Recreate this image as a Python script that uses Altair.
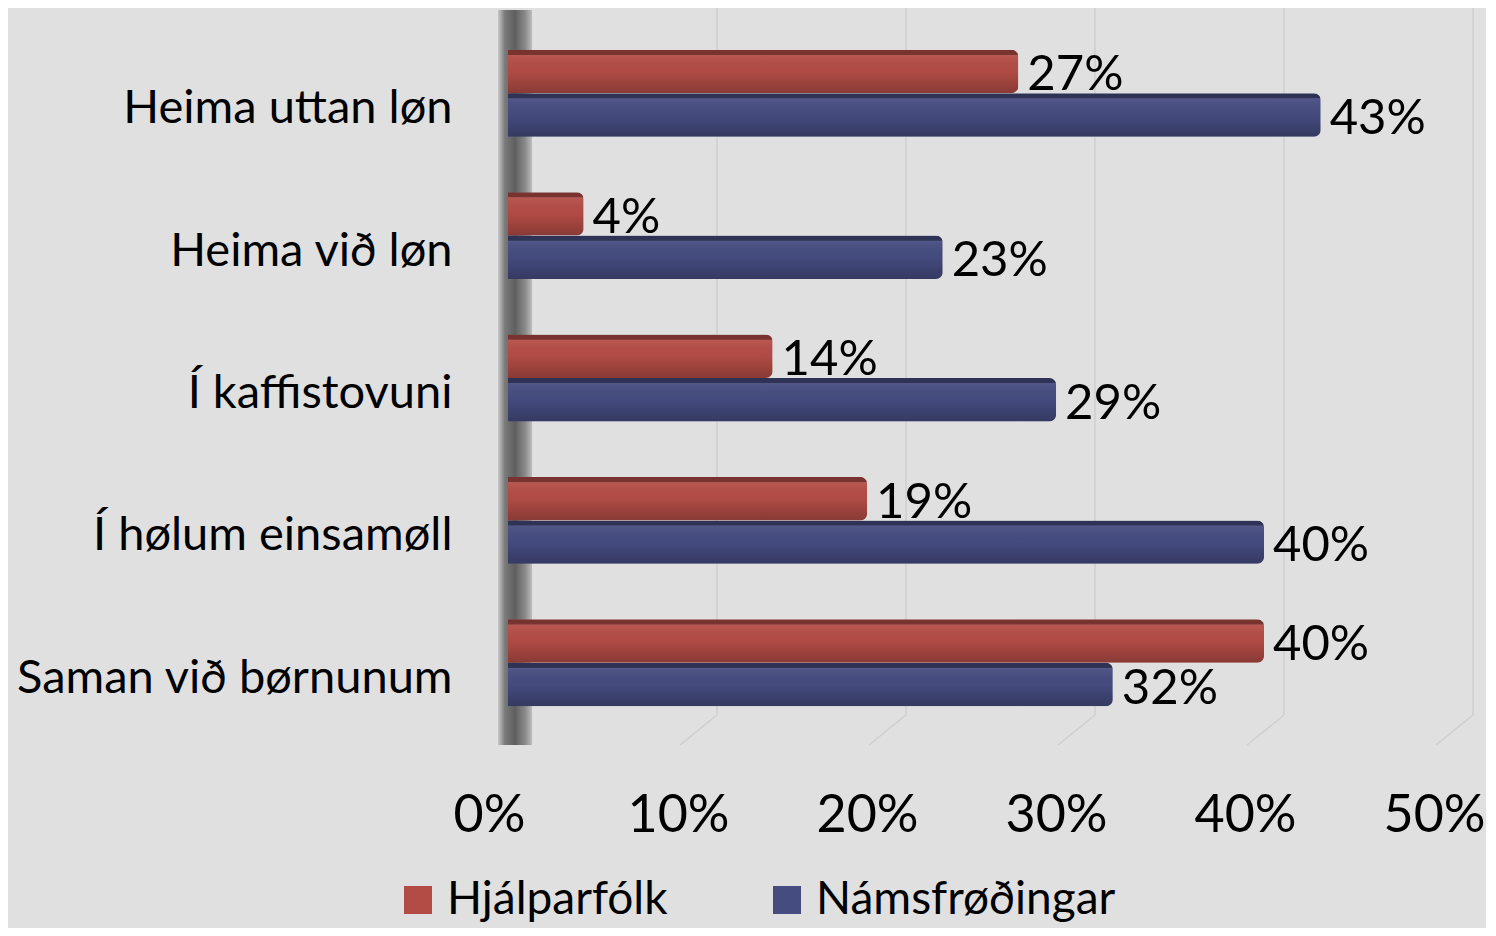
import altair as alt
import pandas as pd

categories = ["Heima uttan løn", "Heima við løn", "Í kaffistovuni", "Í hølum einsamøll", "Saman við børnunum"]
series = ["Hjálparfólk", "Námsfrøðingar"]
hjalparfolk = [27, 4, 14, 19, 40]
namsfrodingar = [43, 23, 29, 40, 32]
ticks = [0, 10, 20, 30, 40, 50]
colors = ["#b44c46", "#454c80"]

rows = []
for c, a, b in zip(categories, hjalparfolk, namsfrodingar):
    rows.append({"cat": c, "series": series[0], "value": a})
    rows.append({"cat": c, "series": series[1], "value": b})
df = pd.DataFrame(rows)
grid_df = pd.DataFrame({"t": ticks[1:]})

FONT = "Lato"
W, H = 945, 712

xscale = alt.Scale(domain=[0, 50], nice=False)
yscale = alt.Scale(paddingInner=0.39, paddingOuter=0.195)

# gridlines (3D back plane + floor slant)
grid_v = alt.Chart(grid_df).mark_rule(color="#cfcfcf", strokeWidth=1.5, xOffset=20).encode(
    x=alt.X("t:Q", scale=xscale),
    y=alt.value(-14), y2=alt.value(693))
grid_s = alt.Chart(grid_df).mark_rule(color="#cfcfcf", strokeWidth=1.5, xOffset=20, x2Offset=-17).encode(
    x=alt.X("t:Q", scale=xscale), x2="t:Q",
    y=alt.value(693), y2=alt.value(723))

wall_grad = alt.LinearGradient(
    gradient="linear", x1=0, x2=1, y1=0, y2=0,
    stops=[alt.GradientStop(color="#c8c8c8", offset=0),
           alt.GradientStop(color="#7a7a7a", offset=0.2),
           alt.GradientStop(color="#5f5f5f", offset=0.5),
           alt.GradientStop(color="#8a8a8a", offset=0.8),
           alt.GradientStop(color="#bdbdbd", offset=1)])
wall = alt.Chart(alt.Data(values=[{"z": 0}])).mark_rect(fill=wall_grad, xOffset=-10, x2Offset=24).encode(
    x=alt.X("z:Q", scale=xscale), x2="z:Q",
    y=alt.value(-12), y2=alt.value(723))

enc_y = alt.Y("cat:N", sort=categories, scale=yscale,
              axis=alt.Axis(title=None, ticks=False, domain=False, labelFont=FONT, labelFontSize=47,
                            labelColor="#000000", labelPadding=56, labelLimit=600, labelOffset=16,
                            labelExpr="datum.value == 'Heima við løn' ? datum.value + '\u00a0\u00a0\u00a0' : datum.value"))
enc_yoff = alt.YOffset("series:N", sort=series, scale=alt.Scale(paddingInner=0, paddingOuter=0))
enc_x = alt.X("value:Q", scale=xscale,
              axis=alt.Axis(title=None, values=ticks, format=".0f", labelExpr="datum.value + '%'",
                            ticks=False, domain=False, grid=False, labelFont=FONT, labelFontSize=52,
                            labelColor="#000000", labelPadding=56, labelOffset=-19, labelBaseline="top",
                            labelFlush=False, labelOverlap=False, labelBound=False))

bars = alt.Chart(df).mark_bar(cornerRadiusEnd=7).encode(
    x=enc_x, y=enc_y, yOffset=enc_yoff,
    color=alt.Color("series:N", sort=series, scale=alt.Scale(domain=series, range=colors),
                    legend=alt.Legend(title=None, orient="none", legendX=-113, legendY=855,
                                      direction="horizontal", symbolType="square", symbolSize=784,
                                      symbolStrokeWidth=0, labelFont=FONT, labelFontSize=46,
                                      labelColor="#000000", labelLimit=600, labelOffset=6,
                                      columnPadding=96, padding=0)))

shade = alt.LinearGradient(
    gradient="linear", x1=0, x2=0, y1=0, y2=1,
    stops=[alt.GradientStop(color="rgba(0,0,0,0.34)", offset=0),
           alt.GradientStop(color="rgba(0,0,0,0.32)", offset=0.11),
           alt.GradientStop(color="rgba(255,255,255,0.06)", offset=0.14),
           alt.GradientStop(color="rgba(0,0,0,0.02)", offset=0.5),
           alt.GradientStop(color="rgba(0,0,0,0.24)", offset=1)])
overlay = alt.Chart(df).mark_bar(cornerRadiusEnd=7, fill=shade).encode(
    x=alt.X("value:Q", scale=xscale), y=alt.Y("cat:N", sort=categories, scale=yscale), yOffset=enc_yoff)

labels = alt.Chart(df).transform_calculate(lbl="datum.value + '%'").mark_text(
    align="left", baseline="middle", dx=9, dy=4, font=FONT, fontSize=49, color="#000000").encode(
    x=alt.X("value:Q", scale=xscale), y=alt.Y("cat:N", sort=categories, scale=yscale),
    yOffset=enc_yoff, text="lbl:N")

chart = alt.layer(grid_v, grid_s, wall, bars, overlay, labels).properties(
    width=W, height=H,
    autosize=alt.AutoSizeParams(type="none"),
    padding={"left": 500, "top": 14, "right": 33, "bottom": 194},
    background="#e0e0e0",
).configure_view(stroke=None)

chart.save("out.html", embed_options={"renderer": "svg", "actions": False})
